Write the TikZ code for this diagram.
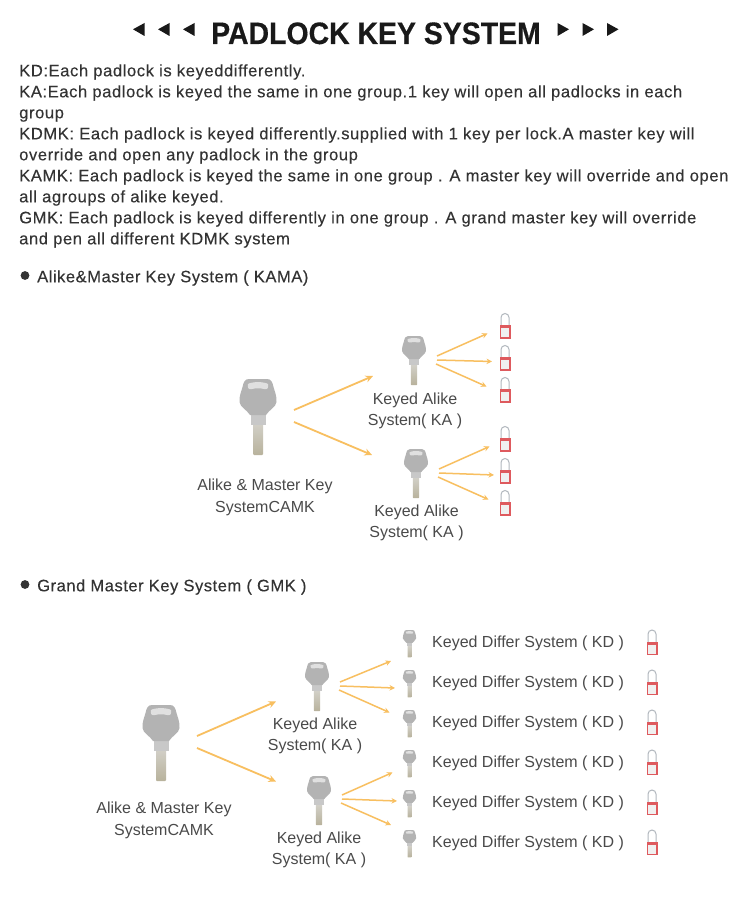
\documentclass[tikz,border=0pt]{standalone}
\usepackage{fontspec}
\setmainfont{Liberation Sans}
\newfontfamily\bodyfont[LetterSpace=3.45,FakeBold=0.2]{Liberation Sans}
\newfontfamily\secfont[LetterSpace=3.0,FakeBold=0.2]{Liberation Sans}
\newfontfamily\titlefont[FakeStretch=0.917,BoldFeatures={FakeBold=0.4}]{Liberation Sans}
\usetikzlibrary{arrows.meta}
\definecolor{txt}{HTML}{333333}
\definecolor{lbl}{HTML}{4A4A4A}
\definecolor{arr}{HTML}{F8BF60}
\definecolor{keyg}{HTML}{B3B3B3}
\definecolor{keyd}{HTML}{C8C8C8}
\definecolor{bladeg}{HTML}{D2D0C8}
\definecolor{bladet}{HTML}{B8B29C}
\definecolor{lockr}{HTML}{DE5A5E}
\definecolor{shk}{HTML}{B2B8BE}
\tikzset{
  conn/.style={draw=arr,line width=1.8pt,-{Stealth[length=7.5pt,width=7pt]}},
  fan/.style={draw=arr,line width=1.5pt,-{Stealth[length=5.5pt,width=5.5pt]}},
  bodytext/.style={anchor=base west,inner sep=0pt,text=txt,font=\bodyfont\fontsize{16.6}{19}\selectfont},
  sectext/.style={anchor=base west,inner sep=0pt,text=txt,font=\secfont\fontsize{16.6}{19}\selectfont},
  capt/.style={align=center,inner sep=0pt,text=lbl,font=\fontsize{16}{21}\selectfont},
  captbig/.style={align=center,inner sep=0pt,text=lbl,font=\fontsize{16}{22}\selectfont},
  kdtext/.style={anchor=base west,inner sep=0pt,text=lbl,font=\fontsize{16}{19}\selectfont},
  tri/.style={fill=black!90,draw=none},
  keyicon/.pic={
    % drawn for a key 76 tall, origin at top centre
    \shade[top color=bladeg,bottom color=bladet] (-5,44) -- (5,44) -- (5,75) -- (4,76) -- (-4,76) -- (-5,75) -- cycle;
    \fill[keyd] (-7.5,34) rectangle (7.5,45.5);
    \fill[keyg] (-9,0) .. controls (-13,0) and (-14.5,3) .. (-15.5,8)
       .. controls (-16.5,12) and (-19,17) .. (-18.5,23)
       .. controls (-18,28) and (-11,31) .. (-8,36)
       -- (8,36) .. controls (11,31) and (18,28) .. (18.5,23)
       .. controls (19,17) and (16.5,12) .. (15.5,8)
       .. controls (14.5,3) and (13,0) .. (9,0) -- cycle;
    \fill[white,opacity=.6] (-10,5) .. controls (-6,2.5) and (6,2.5) .. (10,5)
       .. controls (11,9) and (9,11) .. (6,10) .. controls (2,9) and (-2,9) .. (-6,10)
       .. controls (-9,11) and (-11,9) .. (-10,5) -- cycle;
  },
  lockicon/.pic={
    % 11 wide, 26 tall, origin at top centre
    \draw[shk,line width=1pt] (-4,13) -- (-4,4.5) arc[start angle=180,end angle=360,radius=4] -- (4,13);
    \fill[black!6] (-5,12.5) rectangle (5,25.5);
    \draw[lockr,line width=1.8pt] (-4.6,13) rectangle (4.6,25);
    \fill[lockr] (-5.5,12) rectangle (5.5,15);
  }
}
\begin{document}
\begin{tikzpicture}[x=1pt,y=-1pt]
\useasboundingbox (0,0) rectangle (750,901);
\fill[white] (0,0) rectangle (750,901);
% title
\node[anchor=base,inner sep=0pt,text=black!90,font=\titlefont\fontsize{31}{34}\bfseries\selectfont] (title) at (376,44) {PADLOCK KEY SYSTEM};
\foreach \x in {133,158,183}{\fill[tri] (\x,29.3) -- (\x+11.5,23) -- (\x+11.5,36) -- cycle;}
\foreach \x in {569,594,618.5}{\fill[tri] (\x,29.3) -- (\x-11.5,23) -- (\x-11.5,36) -- cycle;}
% paragraph
\node[bodytext] (p1) at (19,76.3) {KD:Each padlock is keyeddifferently.};
\node[bodytext] (p2) at (19,97.3) {KA:Each padlock is keyed the same in one group.1 key will open all padlocks in each};
\node[bodytext] (p3) at (19,118.3) {group};
\node[bodytext] (p4) at (19,139.3) {KDMK: Each padlock is keyed differently.supplied with 1 key per lock.A master key will};
\node[bodytext] (p5) at (19,160.3) {override and open any padlock in the group};
\node[bodytext] (p6) at (19,181.3) {KAMK: Each padlock is keyed the same in one group . A master key will override and open};
\node[bodytext] (p7) at (19,202.3) {all agroups of alike keyed.};
\node[bodytext] (p8) at (19,223.3) {GMK: Each padlock is keyed differently in one group . A grand master key will override};
\node[bodytext] (p9) at (19,244.3) {and pen all different KDMK system};
% section heads
\fill[txt] (25,275.5) circle (4.4);
\node[sectext] (s1) at (37,282.3) {Alike\&Master Key System ( KAMA)};
\fill[txt] (25,584.5) circle (4.4);
\node[sectext] (s2) at (37,591.3) {Grand Master Key System ( GMK )};

% ===== KAMA =====
\pic at (258,379) {keyicon};
\pic[scale=.645] at (414,336) {keyicon};
\pic[scale=.645] at (416,449) {keyicon};
\foreach \y in {313,345,377,426,458,490}{\pic at (505,\y) {lockicon};}
\node[captbig] (a0) at (265,497) {Alike \& Master Key\\SystemCAMK};
\node[capt] (a1) at (415,411) {Keyed Alike\\System( KA )};
\node[capt] (a2) at (416.5,523) {Keyed Alike\\System( KA )};
\coordinate (a0u) at (294,410); \coordinate (a1i) at (373,376);
\coordinate (a0d) at (294,422); \coordinate (a2i) at (372,455);
\draw[conn] (a0u) -- (a1i);
\draw[conn] (a0d) -- (a2i);
\coordinate (a1o1) at (437,356); \coordinate (l1) at (487.5,333.5);
\coordinate (a1o2) at (437,360); \coordinate (l2) at (492,361.5);
\coordinate (a1o3) at (436,364); \coordinate (l3) at (486.5,386.5);
\coordinate (a2o1) at (439,469); \coordinate (l4) at (489.5,446.5);
\coordinate (a2o2) at (439,473); \coordinate (l5) at (494,475);
\coordinate (a2o3) at (438,477); \coordinate (l6) at (488.5,499.5);
\foreach \s/\e in {a1o1/l1,a1o2/l2,a1o3/l3,a2o1/l4,a2o2/l5,a2o3/l6}{\draw[fan] (\s) -- (\e);}

% ===== GMK =====
\pic at (161,705) {keyicon};
\pic[scale=.645] at (317,662) {keyicon};
\pic[scale=.645] at (319,776) {keyicon};
\node[captbig] (g0) at (164,820) {Alike \& Master Key\\SystemCAMK};
\node[capt] (g1) at (315,736) {Keyed Alike\\System( KA )};
\node[capt] (g2) at (319,850) {Keyed Alike\\System( KA )};
\foreach \i/\y in {1/641,2/681,3/721,4/761,5/801,6/841}{
  \pic[scale=.36] at (409.5,\y-11) {keyicon};
  \node[kdtext] (kd\i) at (432,\y+6) {Keyed Differ System ( KD )};
  \pic at (652,\y-11.5) {lockicon};
}
\coordinate (g0u) at (197,736); \coordinate (g1i) at (276,701.5);
\coordinate (g0d) at (197,748); \coordinate (g2i) at (276,781.5);
\draw[conn] (g0u) -- (g1i);
\draw[conn] (g0d) -- (g2i);
\coordinate (g1o1) at (340,682); \coordinate (k1) at (391,661);
\coordinate (g1o2) at (340,686); \coordinate (k2) at (395,688);
\coordinate (g1o3) at (339,690); \coordinate (k3) at (389.5,712.5);
\coordinate (g2o1) at (342,795); \coordinate (k4) at (392.5,772.5);
\coordinate (g2o2) at (342,799); \coordinate (k5) at (397,801);
\coordinate (g2o3) at (341,803); \coordinate (k6) at (391,825);
\foreach \s/\e in {g1o1/k1,g1o2/k2,g1o3/k3,g2o1/k4,g2o2/k5,g2o3/k6}{\draw[fan] (\s) -- (\e);}
\end{tikzpicture}
\end{document}
